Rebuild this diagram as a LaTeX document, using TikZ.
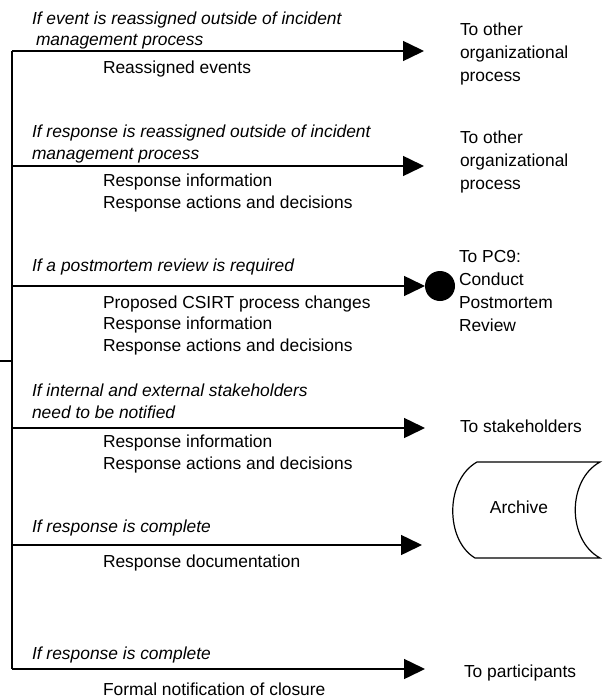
\documentclass[tikz,border=0pt]{standalone}
\usepackage{fontspec}
\setmainfont{Liberation Sans}
\usetikzlibrary{arrows.meta}
\begin{document}
\begin{tikzpicture}[x=1pt,y=-1pt,
  every node/.style={inner sep=0pt,outer sep=0pt},
  cond/.style={anchor=base west,align=left,font=\fontsize{17.4}{21.5}\selectfont\itshape},
  data/.style={anchor=base west,align=left,font=\fontsize{17.4}{21.5}\selectfont},
  dest/.style={anchor=base west,align=left,font=\fontsize{17.4}{23}\selectfont},
  flow/.style={line width=1.5pt,-{Triangle[length=21pt,width=20pt]}},
  bar/.style={line width=1.5pt}]
\useasboundingbox (0,0) rectangle (610,698);

% main bar and input stub
\coordinate (btop) at (12,51);
\coordinate (bbot) at (12,669);
\coordinate (inS) at (0,361);
\coordinate (inE) at (12,361);
\draw[bar] (btop) -- (bbot);
\draw[bar] (inS) -- (inE);

% branch starts and ends
\coordinate (s1) at (12,51);   \coordinate (t1) at (424,51);
\coordinate (s2) at (12,166);  \coordinate (t2) at (424,166);
\coordinate (s3) at (12,286);
\coordinate (s4) at (12,428);  \coordinate (t4) at (425,428);
\coordinate (s5) at (12,545);  \coordinate (t5) at (422,545);
\coordinate (s6) at (12,669);  \coordinate (t6) at (425,669);

\node[circle,fill=black,minimum size=30pt] (pc9) at (440,286) {};

\draw[flow] (s1) -- (t1);
\draw[flow] (s2) -- (t2);
\draw[flow] (s3) -- (pc9.west);
\draw[flow] (s4) -- (t4);
\draw[flow] (s5) -- (t5);
\draw[flow] (s6) -- (t6);

% conditions (base = baseline of last line)
\node[cond] (c1a) at (32,25) {If event is reassigned outside of incident};
\node[cond] (c1b) at (36,46) {management process};
\node[cond] (c2) at (32,159) {If response is reassigned outside of incident\\management process};
\node[cond] (c3) at (32,271) {If a postmortem review is required};
\node[cond] (c4) at (32,418) {If internal and external stakeholders\\need to be notified};
\node[cond] (c5) at (32,532) {If response is complete};
\node[cond] (c6) at (32,659) {If response is complete};

% data
\node[data] (d1) at (103,74) {Reassigned events};
\node[data] (d2) at (103,208) {Response information\\Response actions and decisions};
\node[data] (d3) at (103,351) {Proposed CSIRT process changes\\Response information\\Response actions and decisions};
\node[data] (d4) at (103,469) {Response information\\Response actions and decisions};
\node[data] (d5) at (103,567) {Response documentation};
\node[data] (d6) at (103,695) {Formal notification of closure};

% destinations
\node[dest] (e1) at (460,82) {To other\\organizational\\process};
\node[dest] (e2) at (460,189) {To other\\organizational\\process};
\node[dest] (e3) at (459,331) {To PC9:\\Conduct\\Postmortem\\Review};
\node[dest] (e4) at (460,432) {To stakeholders};
\node[dest] (e6) at (464,677) {To participants};

% archive (stored data)
\draw[line width=1.2pt] (477,462) -- (600,462)
  .. controls (567,480) and (567,540) .. (600,558)
  -- (475,558)
  .. controls (445,540) and (445,480) .. (477,462) -- cycle;
\node[dest,anchor=base] (arch) at (519,513) {Archive};
\end{tikzpicture}
\end{document}
